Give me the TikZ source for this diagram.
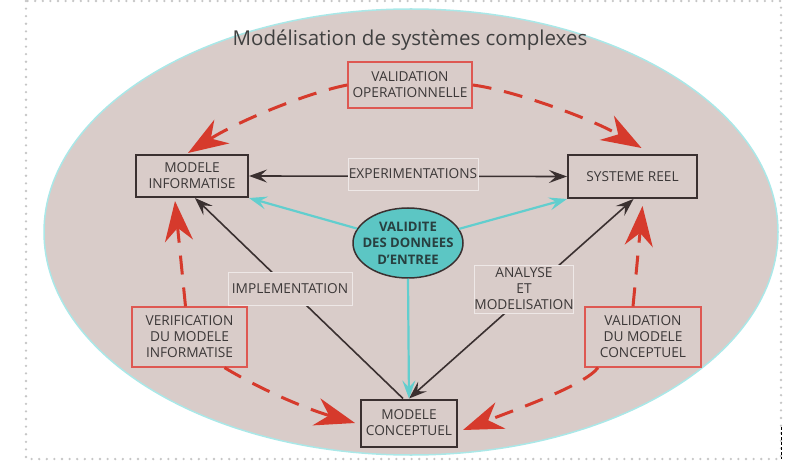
\documentclass[tikz,border=0pt]{standalone}
\usepackage{fontspec}
\setmainfont{Open Sans}
\usetikzlibrary{arrows.meta,shapes.geometric}
\definecolor{bgc}{RGB}{217,204,201}
\definecolor{redc}{RGB}{214,58,44}
\definecolor{redboxc}{RGB}{222,88,82}
\definecolor{cyanc}{RGB}{98,206,206}
\definecolor{tealfill}{RGB}{92,198,196}
\definecolor{boxline}{RGB}{58,48,48}
\definecolor{txt}{RGB}{60,56,56}
\definecolor{tealtxt}{RGB}{40,64,64}
\definecolor{ellline}{RGB}{170,232,232}
\begin{document}
\begin{tikzpicture}[x=1pt,y=-1pt,
  boxtext/.style={align=center,text=txt,font=\fontsize{13.7}{16}\selectfont,inner sep=0pt},
  mainbox/.style={boxtext,draw=boxline,line width=2pt,fill=bgc},
  redbox/.style={boxtext,draw=redboxc,line width=1.3pt,fill=bgc},
  lbl/.style={boxtext,draw=white!55!bgc,line width=0.7pt,fill=bgc},
  elltext/.style={align=center,text=tealtxt,inner sep=0pt,font=\bfseries\fontsize{13.1}{16.5}\selectfont},
  blk/.style={draw=boxline,line width=1.6pt},
  blktip/.style={-{Stealth[length=18pt,width=13pt,inset=7pt]}},
  cyn/.style={draw=cyanc,line width=2.2pt,-{Stealth[length=18pt,width=13pt,inset=7pt]}},
  redarr/.style={draw=redc,line width=3pt,dash pattern=on 19pt off 13pt,-{Stealth[length=40pt,width=28pt,inset=13pt]}}]
\useasboundingbox (0,0) rectangle (810,470);
% frame
\draw[gray!45,line width=2.6pt,line cap=round,dash pattern=on 0pt off 7.6pt] (26,1) rectangle (781,459);
\draw[black,line width=0.9pt,dash pattern=on 3pt off 2pt] (781,427) -- (781,459);
% background ellipse
\fill[bgc] (411,232) ellipse [x radius=367, y radius=223];
\draw[ellline,line width=1.5pt] (411,232) ellipse [x radius=367, y radius=223];
% title
\node[text=black!75,font=\fontsize{20.5}{23}\selectfont] (title) at (410,40) {Modélisation de systèmes complexes};
% main boxes
\node[mainbox,minimum width=112pt,minimum height=42pt] (mi) at (192,176) {MODELE\\INFORMATISE};
\node[mainbox,minimum width=129pt,minimum height=43pt] (sr) at (632.5,176.5) {SYSTEME REEL};
\node[mainbox,minimum width=96pt,minimum height=47pt] (mc) at (409,423) {MODELE\\CONCEPTUEL};
% red boxes
\node[redbox,minimum width=124pt,minimum height=46pt] (vo) at (410,85) {VALIDATION\\OPERATIONNELLE};
\node[redbox,minimum width=115pt,minimum height=60pt] (verif) at (189.5,337) {VERIFICATION\\DU MODELE\\INFORMATISE};
\node[redbox,minimum width=116pt,minimum height=60pt] (vmc) at (643,337) {VALIDATION\\DU MODELE\\CONCEPTUEL};
% ellipse
\node[ellipse,draw=boxline,line width=1.5pt,fill=tealfill,minimum width=110pt,minimum height=70pt,inner sep=0pt] (vd) at (408,243) {};
\node[elltext] (vdt) at (vd.center) {VALIDITE\\DES DONNEES\\D'ENTREE};
% black connectors
\draw[blk,{Stealth[length=18pt,width=13pt,inset=7pt]}-{Stealth[length=18pt,width=13pt,inset=7pt]}] (mi.east) -- (sr.west);
\draw[blk,blktip] ([xshift=-6pt]mc.north) -- ([xshift=3pt]mi.south);
\draw[blk,{Stealth[length=18pt,width=13pt,inset=7pt]}-{Stealth[length=18pt,width=13pt,inset=7pt]}] (mc.north) -- ([xshift=1pt]sr.south);
% cyan connectors
\draw[cyn] (vd) -- (mi.south east);
\draw[cyn] (vd) -- (sr.south west);
\draw[cyn] (vd.south) -- (mc.north);
% labels
\node[lbl,minimum width=130pt,minimum height=32pt] (exp) at (413,174) {EXPERIMENTATIONS};
\node[lbl,minimum width=124pt,minimum height=33pt] (impl) at (290,288.5) {IMPLEMENTATION};
\node[lbl,minimum width=96pt,minimum height=48pt] (an) at (524,289) {ANALYSE\\ET\\MODELISATION};
% red dashed connectors
\draw[redarr] (vo.west) .. controls (310,92) and (240,120) .. ([xshift=-4pt,yshift=1pt]mi.north);
\draw[redarr] (vo.east) .. controls (512,90) and (590,118) .. ([xshift=9pt,yshift=6pt]sr.north);
\draw[redarr] ([xshift=-4pt]verif.north) -- ([xshift=-17pt,yshift=-3pt]mi.south);
\draw[redarr] ([xshift=35pt]verif.south) .. controls (265,392) and (310,410) .. ([xshift=-5pt]mc.west);
\draw[redarr] ([xshift=-10pt]vmc.north) -- ([xshift=10pt,yshift=-7pt]sr.south);
\draw[redarr] ([xshift=-45pt]vmc.south) .. controls (585,385) and (520,408) .. ([xshift=5pt,yshift=-7pt]mc.east);
\end{tikzpicture}
\end{document}
